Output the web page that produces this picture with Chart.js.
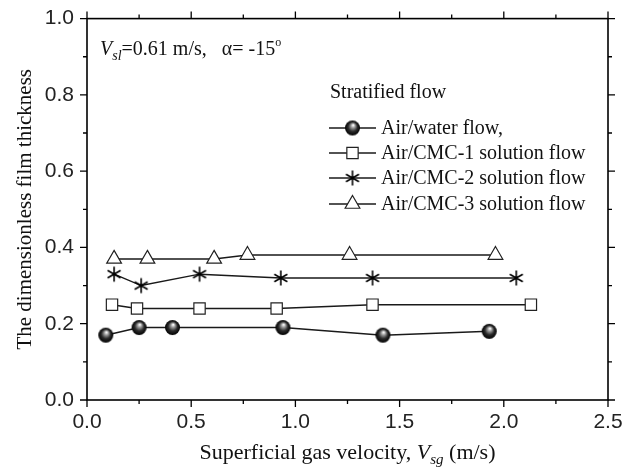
<!DOCTYPE html>
<html>
<head>
<meta charset="utf-8">
<script src="https://cdn.jsdelivr.net/npm/chart.js@4.4.1/dist/chart.umd.min.js"></script>
<style>
html,body{margin:0;padding:0;background:#fff;}
#wrap{width:638px;height:475px;position:relative;}
</style>
</head>
<body>
<div id="wrap"><canvas id="c" width="638" height="475"></canvas></div>
<script>
// ---- data ----
const waterX = [0.09, 0.25, 0.41, 0.94, 1.42, 1.93];
const waterY = [0.17, 0.19, 0.19, 0.19, 0.17, 0.18];
const cmc1X  = [0.12, 0.24, 0.54, 0.91, 1.37, 2.13];
const cmc1Y  = [0.25, 0.24, 0.24, 0.24, 0.25, 0.25];
const cmc2X  = [0.13, 0.26, 0.54, 0.93, 1.37, 2.06];
const cmc2Y  = [0.33, 0.30, 0.33, 0.32, 0.32, 0.32];
const cmc3X  = [0.13, 0.29, 0.61, 0.77, 1.26, 1.96];
const cmc3Y  = [0.37, 0.37, 0.37, 0.38, 0.38, 0.38];
const seriesNames = ['Air/water flow,', 'Air/CMC-1 solution flow', 'Air/CMC-2 solution flow', 'Air/CMC-3 solution flow'];
const xMajorTicks = [0.0, 0.5, 1.0, 1.5, 2.0, 2.5];
const xMinorTicks = [0.25, 0.75, 1.25, 1.75, 2.25];
const yMajorTicks = [0.0, 0.2, 0.4, 0.6, 0.8, 1.0];
const yMinorTicks = [0.1, 0.3, 0.5, 0.7, 0.9];

function pts(xs, ys){ return xs.map((x,i)=>({x:x, y:ys[i]})); }

// shaded sphere marker
function makeSphere(r){
  const c = document.createElement('canvas');
  const s = Math.ceil(r*2+2);
  c.width = s; c.height = s;
  const g = c.getContext('2d');
  const cx = s/2, cy = s/2;
  const grad = g.createRadialGradient(cx+r*0.1, cy-r*0.4, r*0.05, cx, cy, r);
  grad.addColorStop(0, '#ffffff');
  grad.addColorStop(0.25, '#9a9a9a');
  grad.addColorStop(0.6, '#2a2a2a');
  grad.addColorStop(1, '#000000');
  g.fillStyle = grad;
  g.beginPath(); g.arc(cx, cy, r, 0, Math.PI*2); g.fill();
  return c;
}
// six-armed asterisk marker
function makeAsterisk(r){
  const c = document.createElement('canvas');
  const s = Math.ceil(r*2+3);
  c.width = s; c.height = s;
  const g = c.getContext('2d');
  const cx = s/2, cy = s/2;
  g.strokeStyle = '#000'; g.lineWidth = 1.6;
  g.beginPath();
  for (let k=0;k<3;k++){
    const a = Math.PI/2 + k*Math.PI/3;
    g.moveTo(cx + r*Math.cos(a), cy + r*Math.sin(a));
    g.lineTo(cx - r*Math.cos(a), cy - r*Math.sin(a));
  }
  g.stroke();
  return c;
}
const sphere = makeSphere(7.5);
const asterisk = makeAsterisk(7.5);

const lineColor = '#1a1a1a';
const datasets = [
  {label: seriesNames[0], data: pts(waterX, waterY), pointStyle: sphere, pointRadius: 8,
   borderColor: lineColor, backgroundColor: '#000', borderWidth: 1.5},
  {label: seriesNames[1], data: pts(cmc1X, cmc1Y), pointStyle: 'rect', pointRadius: 8,
   borderColor: lineColor, backgroundColor: '#fff', pointBackgroundColor: '#fff', pointBorderColor: '#222', pointBorderWidth: 1.2, borderWidth: 1.5},
  {label: seriesNames[2], data: pts(cmc2X, cmc2Y), pointStyle: asterisk, pointRadius: 8,
   borderColor: lineColor, backgroundColor: '#000', borderWidth: 1.5},
  {label: seriesNames[3], data: pts(cmc3X, cmc3Y), pointStyle: 'triangle', pointRadius: 8.5,
   borderColor: lineColor, backgroundColor: '#fff', pointBackgroundColor: '#fff', pointBorderColor: '#222', pointBorderWidth: 1.2, borderWidth: 1.5}
];
datasets.forEach(d=>{ d.showLine = true; d.tension = 0; d.fill = false; d.pointHoverRadius = d.pointRadius; });

const serif = '"Liberation Serif", "Times New Roman", serif';
const sans = '"Liberation Sans", Arial, sans-serif';

const framePlugin = {
  id: 'frame',
  afterDatasetsDraw(chart){
    const ctx = chart.ctx, ca = chart.chartArea;
    const xs = chart.scales.x, ys = chart.scales.y;
    ctx.save();
    ctx.strokeStyle = '#000';
    ctx.lineWidth = 1.6;
    ctx.strokeRect(ca.left, ca.top, ca.right-ca.left, ca.bottom-ca.top);
    ctx.lineWidth = 1.3;
    ctx.beginPath();
    const tickX = (v, len)=>{
      const p = xs.getPixelForValue(v);
      ctx.moveTo(p, ca.bottom); ctx.lineTo(p, ca.bottom+len);
      ctx.moveTo(p, ca.top); ctx.lineTo(p, ca.top-len);
    };
    const tickY = (v, len)=>{
      const p = ys.getPixelForValue(v);
      ctx.moveTo(ca.left, p); ctx.lineTo(ca.left-len, p);
      ctx.moveTo(ca.right, p); ctx.lineTo(ca.right+len, p);
    };
    xMajorTicks.forEach(v=>tickX(v,7));
    xMinorTicks.forEach(v=>tickX(v,4));
    yMajorTicks.forEach(v=>tickY(v,7));
    yMinorTicks.forEach(v=>tickY(v,4));
    ctx.stroke();

    ctx.fillStyle = '#111';
    ctx.textBaseline = 'alphabetic';
    // x title
    const fx = 22;
    const parts = [
      {t:'Superficial gas velocity, ', f:`${fx}px ${serif}`, dy:0},
      {t:'V', f:`italic ${fx}px ${serif}`, dy:0},
      {t:'sg', f:`italic ${Math.round(fx*0.7)}px ${serif}`, dy:5},
      {t:' (m/s)', f:`${fx}px ${serif}`, dy:0}
    ];
    let w = 0;
    parts.forEach(p=>{ ctx.font = p.f; w += ctx.measureText(p.t).width; });
    let x0 = (ca.left+ca.right)/2 - w/2;
    const by = 459;
    parts.forEach(p=>{ ctx.font = p.f; ctx.fillText(p.t, x0, by+p.dy); x0 += ctx.measureText(p.t).width; });

    // y title
    ctx.save();
    ctx.translate(25, (ca.top+ca.bottom)/2);
    ctx.rotate(-Math.PI/2);
    ctx.font = `21px ${serif}`;
    ctx.textAlign = 'center';
    ctx.textBaseline = 'middle';
    ctx.fillText('The dimensionless film thickness', 0, 0);
    ctx.restore();

    // annotation
    const fs = 20;
    let ax = 100; const ay = 55;
    const ann = [
      {t:'V', f:`italic ${fs}px ${serif}`, dy:0},
      {t:'sl', f:`italic ${Math.round(fs*0.7)}px ${serif}`, dy:5},
      {t:'=0.61 m/s,   \u03B1= -15', f:`${fs}px ${serif}`, dy:0},
      {t:'o', f:`${Math.round(fs*0.6)}px ${serif}`, dy:-9}
    ];
    ann.forEach(p=>{ ctx.font = p.f; ctx.fillText(p.t, ax, ay+p.dy); ax += ctx.measureText(p.t).width; });

    // legend
    ctx.font = `${fs}px ${serif}`;
    ctx.textBaseline = 'middle';
    ctx.fillText('Stratified flow', 330, 93);
    const rows = [128, 153, 178, 204];
    chart.data.datasets.forEach((d, i)=>{
      const y = rows[i];
      ctx.strokeStyle = lineColor; ctx.lineWidth = 1.5;
      ctx.beginPath(); ctx.moveTo(329, y); ctx.lineTo(376, y); ctx.stroke();
      ctx.fillStyle = d.pointBackgroundColor || d.backgroundColor;
      ctx.strokeStyle = d.pointBorderColor || '#222';
      ctx.lineWidth = d.pointBorderWidth || 1.2;
      Chart.helpers.drawPoint(ctx, {pointStyle: d.pointStyle, radius: d.pointRadius, borderWidth: ctx.lineWidth, rotation: 0}, 352.5, y);
      ctx.fillStyle = '#111';
      ctx.fillText(d.label, 381, y+1);
    });
    ctx.restore();
  }
};

new Chart(document.getElementById('c'), {
  type: 'scatter',
  data: {datasets: datasets},
  options: {
    responsive: false,
    animation: false,
    layout: {padding: {left: 0, right: 30, top: 17, bottom: 0}},
    plugins: {legend: {display: false}, tooltip: {enabled: false}},
    scales: {
      x: {
        type: 'linear', min: 0, max: 2.5,
        afterBuildTicks: s => { s.ticks = xMajorTicks.map(v=>({value:v})); },
        ticks: {callback: v => v.toFixed(1), color: '#222', font: {family: sans, size: 21}, padding: 3, maxRotation: 0, autoSkip: false},
        grid: {display: true, drawOnChartArea: false, drawTicks: true, tickLength: 7, color: 'rgba(0,0,0,0)'},
        border: {display: false},
        afterFit: s => { s.height = 75; }
      },
      y: {
        type: 'linear', min: 0, max: 1.0,
        afterBuildTicks: s => { s.ticks = yMajorTicks.map(v=>({value:v})); },
        ticks: {callback: v => v.toFixed(1), color: '#222', font: {family: sans, size: 21}, padding: 6, autoSkip: false},
        grid: {display: true, drawOnChartArea: false, drawTicks: true, tickLength: 7, color: 'rgba(0,0,0,0)'},
        border: {display: false},
        afterFit: s => { s.width = 87; }
      }
    }
  },
  plugins: [framePlugin]
});
</script>
</body>
</html>
